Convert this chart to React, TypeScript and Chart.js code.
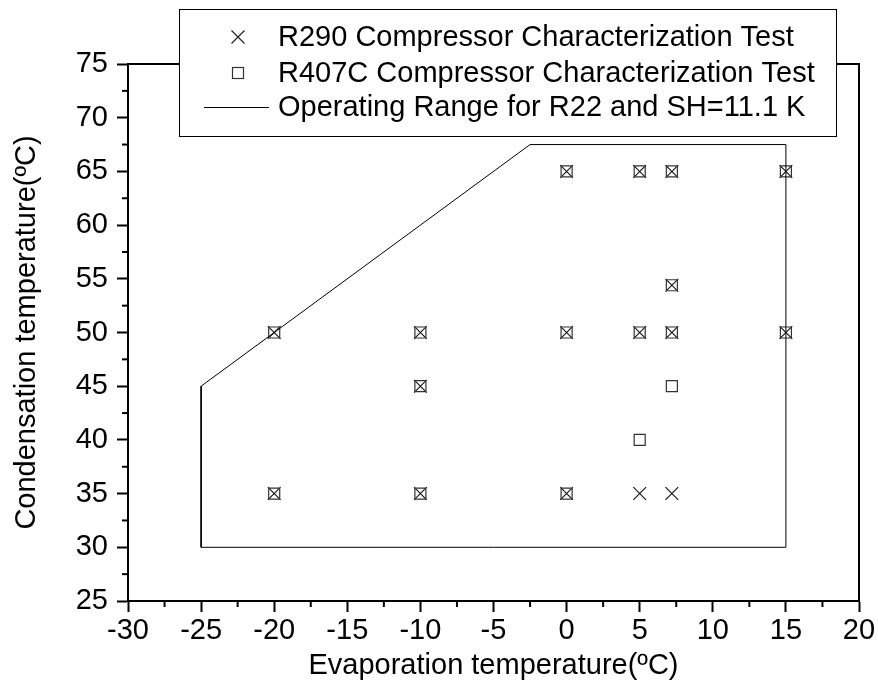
import React, { useEffect, useRef } from 'react';
import { Chart, registerables } from 'chart.js';

Chart.register(...registerables);

const r290X = [-20, -10, 0, 5, 7.2, 15, -10, -20, -10, 0, 5, 7.2, 0, 5, 7.2, 15, 7.2];
const r290Y = [50, 50, 50, 50, 50, 50, 45, 35, 35, 35, 35, 35, 65, 65, 65, 65, 54.4];
const r407cX = [-20, -10, 0, 5, 7.2, 15, -10, -20, -10, 0, 7.2, 5, 0, 5, 7.2, 15, 7.2];
const r407cY = [50, 50, 50, 50, 50, 50, 45, 35, 35, 35, 45, 40, 65, 65, 65, 65, 54.4];
const rangeX = [-25, 15, 15, -2.5, -25, -25];
const rangeY = [30, 30, 67.5, 67.5, 45, 30];

const labelR290 = 'R290 Compressor Characterization Test';
const labelR407C = 'R407C Compressor Characterization Test';
const labelRange = 'Operating Range for R22 and SH=11.1 K';
const xTitle = 'Evaporation temperature(ºC)';
const yTitle = 'Condensation temperature(ºC)';

const FONT = "'Liberation Sans', Arial, sans-serif";
const FS = 29;

const framePlugin = {
  id: 'frameAndLegend',
  afterDraw(chart: any) {
    const ctx = chart.ctx;
    const { left, right, top, bottom } = chart.chartArea;
    const xs = chart.scales.x;
    const ys = chart.scales.y;
    ctx.save();
    // minor ticks
    ctx.strokeStyle = '#000';
    ctx.lineWidth = 2;
    for (let v = -27.5; v < 20; v += 5) {
      const px = xs.getPixelForValue(v);
      ctx.beginPath();
      ctx.moveTo(px, bottom);
      ctx.lineTo(px, bottom + 6);
      ctx.stroke();
    }
    for (let v = 27.5; v < 75; v += 5) {
      const py = ys.getPixelForValue(v);
      ctx.beginPath();
      ctx.moveTo(left, py);
      ctx.lineTo(left - 6, py);
      ctx.stroke();
    }
    // frame
    ctx.lineWidth = 2;
    ctx.strokeRect(left, top, right - left, bottom - top);

    // legend box
    const bx = 179.5, by = 9.5, bw = 657, bh = 127;
    ctx.fillStyle = '#fff';
    ctx.fillRect(bx, by, bw, bh);
    ctx.lineWidth = 1;
    ctx.strokeStyle = '#000';
    ctx.strokeRect(bx, by, bw, bh);

    const rows = [37, 73, 107];
    // cross
    ctx.lineWidth = 1.2;
    ctx.strokeStyle = '#222';
    const cx = 238;
    ctx.beginPath();
    ctx.moveTo(cx - 6.5, rows[0] - 6.5);
    ctx.lineTo(cx + 6.5, rows[0] + 6.5);
    ctx.moveTo(cx + 6.5, rows[0] - 6.5);
    ctx.lineTo(cx - 6.5, rows[0] + 6.5);
    ctx.stroke();
    // square
    ctx.strokeStyle = '#333';
    ctx.strokeRect(cx - 5.5, rows[1] - 5.5, 11, 11);
    // line
    ctx.strokeStyle = '#000';
    ctx.lineWidth = 1;
    ctx.beginPath();
    ctx.moveTo(204, rows[2] + 0.5);
    ctx.lineTo(269, rows[2] + 0.5);
    ctx.stroke();

    ctx.fillStyle = '#000';
    ctx.font = `${FS}px ${FONT}`;
    ctx.textBaseline = 'middle';
    ctx.textAlign = 'left';
    ctx.fillText(labelR290, 278, rows[0] + 1);
    ctx.fillText(labelR407C, 278, rows[1] + 1);
    ctx.fillText(labelRange, 278, rows[2] + 1);
    ctx.restore();
  },
};

export default function App() {
  const ref = useRef<HTMLCanvasElement | null>(null);
  useEffect(() => {
    document.body.style.margin = '0';
    const canvas = ref.current;
    if (!canvas) return;
    const chart = new Chart(canvas, {
      type: 'scatter',
      data: {
        datasets: [
          {
            label: labelRange,
            data: rangeX.map((x, i) => ({ x, y: rangeY[i] })),
            showLine: true,
            borderColor: '#000',
            borderWidth: 1,
            pointRadius: 0,
            fill: false,
            tension: 0,
          },
          {
            label: labelR407C,
            data: r407cX.map((x, i) => ({ x, y: r407cY[i] })),
            pointStyle: 'rect',
            pointRadius: 7.8,
            pointBorderColor: '#333',
            pointBackgroundColor: 'rgba(0,0,0,0)',
            pointBorderWidth: 1.2,
            showLine: false,
          },
          {
            label: labelR290,
            data: r290X.map((x, i) => ({ x, y: r290Y[i] })),
            pointStyle: 'crossRot',
            pointRadius: 9,
            pointBorderColor: '#111',
            pointBorderWidth: 1.1,
            showLine: false,
          },
        ],
      },
      options: {
        animation: false,
        responsive: false,
        devicePixelRatio: 1,
        layout: { padding: { top: 64, right: 19, left: 0, bottom: 0 } },
        plugins: {
          legend: { display: false },
          tooltip: { enabled: false },
        },
        scales: {
          x: {
            type: 'linear',
            min: -30,
            max: 20,
            ticks: {
              stepSize: 5,
              color: '#000',
              font: { family: FONT, size: FS },
              padding: 2,
              maxRotation: 0,
            },
            grid: {
              drawOnChartArea: false,
              drawTicks: true,
              tickLength: 11,
              tickWidth: 2,
              tickColor: '#000',
            },
            border: { display: true, color: '#000', width: 2 },
            title: {
              display: true,
              text: xTitle,
              color: '#000',
              font: { family: FONT, size: FS },
              padding: { top: 0, bottom: 5 },
            },
            afterFit: (s: any) => {
              s.height = 87;
            },
          },
          y: {
            type: 'linear',
            min: 25,
            max: 75,
            ticks: {
              stepSize: 5,
              color: '#000',
              font: { family: FONT, size: FS },
              padding: 9,
            },
            grid: {
              drawOnChartArea: false,
              drawTicks: true,
              tickLength: 11,
              tickWidth: 2,
              tickColor: '#000',
            },
            border: { display: true, color: '#000', width: 2 },
            title: {
              display: true,
              text: yTitle,
              color: '#000',
              font: { family: FONT, size: FS },
              padding: { top: 10, bottom: 0 },
            },
            afterFit: (s: any) => {
              s.width = 128;
            },
          },
        },
      },
      plugins: [framePlugin],
    });
    return () => chart.destroy();
  }, []);
  return (
    <div style={{ width: 878, height: 688 }}>
      <canvas ref={ref} width={878} height={688} style={{ display: 'block', width: 878, height: 688 }} />
    </div>
  );
}
